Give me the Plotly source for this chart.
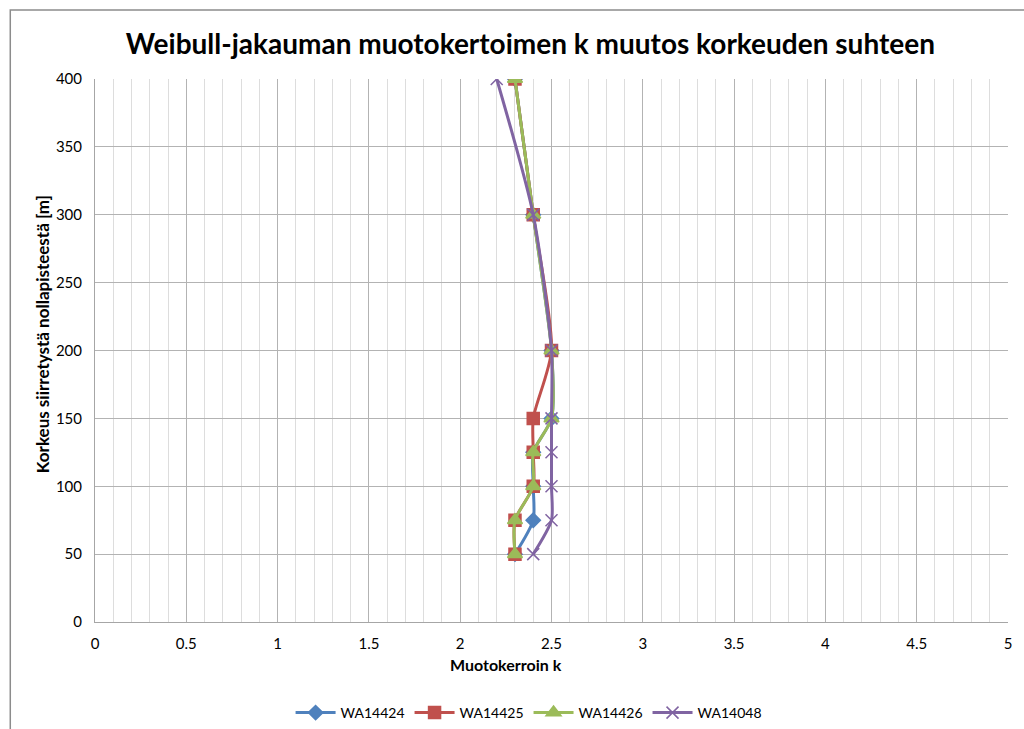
import plotly.graph_objects as go

heights = [50, 75, 100, 125, 150, 200, 300, 400]
wa14424 = [2.3, 2.4, 2.4, 2.4, 2.5, 2.5, 2.4, 2.3]
wa14425 = [2.3, 2.3, 2.4, 2.4, 2.4, 2.5, 2.4, 2.3]
wa14426 = [2.3, 2.3, 2.4, 2.4, 2.5, 2.5, 2.4, 2.3]
wa14048 = [2.4, 2.5, 2.5, 2.5, 2.5, 2.5, 2.4, 2.2]

series = [
    ("WA14424", wa14424, "#4F81BD", "diamond", 11),
    ("WA14425", wa14425, "#C0504D", "square", 12),
    ("WA14426", wa14426, "#9BBB59", "triangle-up", 13),
    ("WA14048", wa14048, "#8064A2", "x-thin", 12),
]

FONT = "Lato, 'Open Sans', sans-serif"

fig = go.Figure()
for name, vals, col, sym, sz in series:
    fig.add_trace(go.Scatter(
        x=vals, y=heights, name=name, mode="lines+markers",
        line=dict(color=col, width=3, shape="spline", smoothing=0.7),
        marker=dict(symbol=sym, size=sz, color=col,
                    line=dict(color=col, width=1.5)),
    ))

L, R, T, B = 95, 13, 79, 107
W, H = 1024, 729
pw, ph = W - L - R, H - T - B

def px_x(p):
    return (p - L) / pw

def px_y(p):
    return (H - B - p) / ph

fig.update_layout(
    width=W, height=H,
    margin=dict(l=L, r=R, t=T, b=B),
    paper_bgcolor="white", plot_bgcolor="white",
    font=dict(family=FONT, size=15, color="#000000"),
    title=dict(text="<b>Weibull-jakauman muotokertoimen k muutos korkeuden suhteen</b>",
               x=0.518, xanchor="center", y=1 - 44 / H, yanchor="middle",
               font=dict(size=28, family=FONT)),
    showlegend=True,
    legend=dict(orientation="h", x=px_x(530), xanchor="center", y=(H - 713) / H,
                yref="container", yanchor="middle",
                font=dict(size=14, family=FONT), itemwidth=40),
    xaxis=dict(range=[0, 5], dtick=0.5, showgrid=True, gridcolor="#b3b3b3",
               gridwidth=1,
               minor=dict(dtick=0.1, showgrid=True, gridcolor="#dddddd", gridwidth=1),
               showline=True, linecolor="#a6a6a6", linewidth=1, mirror=False,
               zeroline=False, ticks="", ticklen=0, ticklabelstandoff=8,
               tickfont=dict(size=15)),
    yaxis=dict(range=[0, 400], dtick=50, showgrid=True, gridcolor="#b3b3b3",
               gridwidth=1, showline=True, linecolor="#a6a6a6", linewidth=1,
               zeroline=False, ticks="", ticklabelstandoff=9,
               tickfont=dict(size=15)),
    annotations=[
        dict(text="<b>Muotokerroin k</b>", xref="paper", yref="paper",
             x=px_x(507), y=px_y(664), xanchor="center", yanchor="middle",
             showarrow=False, font=dict(size=16)),
        dict(text="<b>Korkeus siirretystä nollapisteestä [m]</b>", xref="paper", yref="paper",
             x=px_x(42), y=px_y(334), xanchor="center", yanchor="middle",
             textangle=-90, showarrow=False, font=dict(size=17)),
    ],
    shapes=[dict(type="rect", xref="paper", yref="paper",
                 x0=px_x(10), x1=1.05, y0=-0.4, y1=px_y(10),
                 line=dict(color="#8c8c8c", width=1.5), fillcolor="rgba(0,0,0,0)",
                 layer="below")],
)

fig.write_html("out.html", config={"displayModeBar": False},
               post_script="document.body.style.margin='0px';document.body.style.overflow='hidden';")
